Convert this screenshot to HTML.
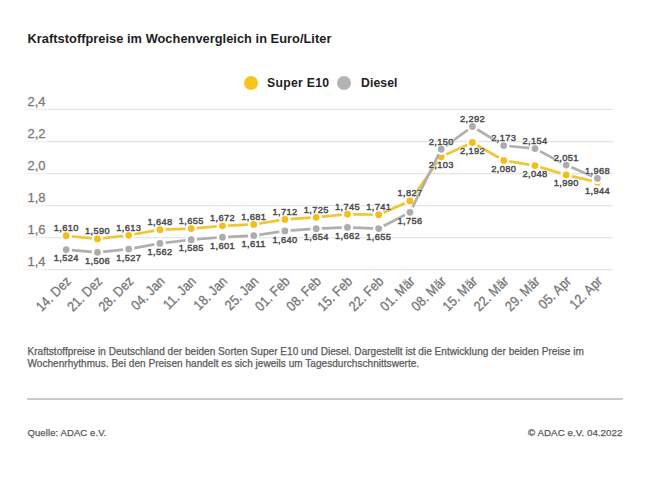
<!DOCTYPE html>
<html><head><meta charset="utf-8"><style>
html,body{margin:0;padding:0;background:#fff;width:650px;height:495px;overflow:hidden;}
body{position:relative;font-family:"Liberation Sans",sans-serif;}
.t{position:absolute;white-space:nowrap;line-height:1;}
#title{left:27.5px;top:33.2px;letter-spacing:0.04px;font-size:12.8px;font-weight:bold;color:#1e1e1e;}
#leg1{left:267px;top:77.3px;letter-spacing:0.3px;font-size:12.2px;font-weight:bold;color:#222;}
#leg2{left:361px;top:77.3px;letter-spacing:0.1px;font-size:12.2px;font-weight:bold;color:#222;}
.dot{position:absolute;width:14.2px;height:14.2px;border-radius:50%;}
#desc{left:27.5px;top:346px;font-size:10.05px;letter-spacing:0.02px;color:#5a5a5a;-webkit-text-stroke:0.25px #5a5a5a;line-height:11.6px;}
#q{left:27.5px;top:427.7px;letter-spacing:0.1px;font-size:9.5px;color:#5a5a5a;-webkit-text-stroke:0.25px #5a5a5a;}
#c{left:528px;top:427.7px;letter-spacing:0.05px;font-size:9.75px;color:#5a5a5a;-webkit-text-stroke:0.25px #5a5a5a;}
#sep{position:absolute;left:27px;top:398.4px;width:595.5px;height:1.8px;background:#cbcbcb;}
svg{position:absolute;left:0;top:0;}
.yl{font-size:13px;fill:#7b7b7b;stroke:#7b7b7b;stroke-width:0.3px;}
.xl{font-size:13.2px;fill:#777;stroke:#777;stroke-width:0.3px;letter-spacing:0.1px;}
.halo{font-size:9.9px;font-weight:normal;letter-spacing:0.35px;fill:#fff;stroke:#fff;stroke-width:1.2px;stroke-linejoin:round;text-anchor:middle;}
.dl{font-size:9.9px;font-weight:normal;letter-spacing:0.35px;fill:#4b4b4b;stroke:#4b4b4b;stroke-width:0.45px;text-anchor:middle;}
</style></head><body>
<div class="t" id="title">Kraftstoffpreise im Wochenvergleich in Euro/Liter</div>
<div class="dot" style="left:244px;top:75.8px;background:#f8c520;"></div>
<div class="t" id="leg1">Super E10</div>
<div class="dot" style="left:337.1px;top:75.8px;background:#b3b3b3;"></div>
<div class="t" id="leg2">Diesel</div>
<svg width="650" height="340" viewBox="0 0 650 340" font-family="Liberation Sans, sans-serif">
<line x1="27" y1="269.65" x2="48" y2="269.65" stroke="#f0f0f0" stroke-width="1.3"/>
<line x1="48" y1="269.65" x2="613" y2="269.65" stroke="#e4e4e4" stroke-width="1.3"/>
<line x1="27" y1="237.61" x2="48" y2="237.61" stroke="#f0f0f0" stroke-width="1.3"/>
<line x1="48" y1="237.61" x2="613" y2="237.61" stroke="#e4e4e4" stroke-width="1.3"/>
<line x1="27" y1="205.57" x2="48" y2="205.57" stroke="#f0f0f0" stroke-width="1.3"/>
<line x1="48" y1="205.57" x2="613" y2="205.57" stroke="#e4e4e4" stroke-width="1.3"/>
<line x1="27" y1="173.53" x2="48" y2="173.53" stroke="#f0f0f0" stroke-width="1.3"/>
<line x1="48" y1="173.53" x2="613" y2="173.53" stroke="#e4e4e4" stroke-width="1.3"/>
<line x1="27" y1="141.49" x2="48" y2="141.49" stroke="#f0f0f0" stroke-width="1.3"/>
<line x1="48" y1="141.49" x2="613" y2="141.49" stroke="#e4e4e4" stroke-width="1.3"/>
<line x1="27" y1="109.45" x2="48" y2="109.45" stroke="#f0f0f0" stroke-width="1.3"/>
<line x1="48" y1="109.45" x2="613" y2="109.45" stroke="#e4e4e4" stroke-width="1.3"/>
<text x="27.5" y="265.70" class="yl">1,4</text>
<text x="27.5" y="233.66" class="yl">1,6</text>
<text x="27.5" y="201.62" class="yl">1,8</text>
<text x="27.5" y="169.58" class="yl">2,0</text>
<text x="27.5" y="137.54" class="yl">2,2</text>
<text x="27.5" y="105.50" class="yl">2,4</text>
<text transform="translate(72.00,282) rotate(-45) scale(0.93,1.06)" text-anchor="end" class="xl">14. Dez</text>
<text transform="translate(103.25,282) rotate(-45) scale(0.93,1.06)" text-anchor="end" class="xl">21. Dez</text>
<text transform="translate(134.50,282) rotate(-45) scale(0.93,1.06)" text-anchor="end" class="xl">28. Dez</text>
<text transform="translate(165.75,282) rotate(-45) scale(0.93,1.06)" text-anchor="end" class="xl">04. Jan</text>
<text transform="translate(197.00,282) rotate(-45) scale(0.93,1.06)" text-anchor="end" class="xl">11. Jan</text>
<text transform="translate(228.25,282) rotate(-45) scale(0.93,1.06)" text-anchor="end" class="xl">18. Jan</text>
<text transform="translate(259.50,282) rotate(-45) scale(0.93,1.06)" text-anchor="end" class="xl">25. Jan</text>
<text transform="translate(290.75,282) rotate(-45) scale(0.93,1.06)" text-anchor="end" class="xl">01. Feb</text>
<text transform="translate(322.00,282) rotate(-45) scale(0.93,1.06)" text-anchor="end" class="xl">08. Feb</text>
<text transform="translate(353.25,282) rotate(-45) scale(0.93,1.06)" text-anchor="end" class="xl">15. Feb</text>
<text transform="translate(384.50,282) rotate(-45) scale(0.93,1.06)" text-anchor="end" class="xl">22. Feb</text>
<text transform="translate(415.75,282) rotate(-45) scale(0.93,1.06)" text-anchor="end" class="xl">01. Mär</text>
<text transform="translate(447.00,282) rotate(-45) scale(0.93,1.06)" text-anchor="end" class="xl">08. Mär</text>
<text transform="translate(478.25,282) rotate(-45) scale(0.93,1.06)" text-anchor="end" class="xl">15. Mär</text>
<text transform="translate(509.50,282) rotate(-45) scale(0.93,1.06)" text-anchor="end" class="xl">22. Mär</text>
<text transform="translate(540.75,282) rotate(-45) scale(0.93,1.06)" text-anchor="end" class="xl">29. Mär</text>
<text transform="translate(572.00,282) rotate(-45) scale(0.93,1.06)" text-anchor="end" class="xl">05. Apr</text>
<text transform="translate(603.25,282) rotate(-45) scale(0.93,1.06)" text-anchor="end" class="xl">12. Apr</text>
<polyline points="66.20,235.76 97.45,238.96 128.70,235.28 159.95,229.67 191.20,228.55 222.45,225.83 253.70,224.38 284.95,219.42 316.20,217.33 347.45,214.13 378.70,214.77 409.95,200.99 441.20,156.78 472.45,142.52 503.70,160.46 534.95,165.59 566.20,174.88 597.45,182.25" fill="none" stroke="#f1c634" stroke-width="2.7" stroke-linejoin="round"/>
<circle cx="66.20" cy="235.76" r="4.6" fill="#f5bd18" stroke="#fff" stroke-width="2.4"/>
<circle cx="97.45" cy="238.96" r="4.6" fill="#f5bd18" stroke="#fff" stroke-width="2.4"/>
<circle cx="128.70" cy="235.28" r="4.6" fill="#f5bd18" stroke="#fff" stroke-width="2.4"/>
<circle cx="159.95" cy="229.67" r="4.6" fill="#f5bd18" stroke="#fff" stroke-width="2.4"/>
<circle cx="191.20" cy="228.55" r="4.6" fill="#f5bd18" stroke="#fff" stroke-width="2.4"/>
<circle cx="222.45" cy="225.83" r="4.6" fill="#f5bd18" stroke="#fff" stroke-width="2.4"/>
<circle cx="253.70" cy="224.38" r="4.6" fill="#f5bd18" stroke="#fff" stroke-width="2.4"/>
<circle cx="284.95" cy="219.42" r="4.6" fill="#f5bd18" stroke="#fff" stroke-width="2.4"/>
<circle cx="316.20" cy="217.33" r="4.6" fill="#f5bd18" stroke="#fff" stroke-width="2.4"/>
<circle cx="347.45" cy="214.13" r="4.6" fill="#f5bd18" stroke="#fff" stroke-width="2.4"/>
<circle cx="378.70" cy="214.77" r="4.6" fill="#f5bd18" stroke="#fff" stroke-width="2.4"/>
<circle cx="409.95" cy="200.99" r="4.6" fill="#f5bd18" stroke="#fff" stroke-width="2.4"/>
<circle cx="441.20" cy="156.78" r="4.6" fill="#f5bd18" stroke="#fff" stroke-width="2.4"/>
<circle cx="472.45" cy="142.52" r="4.6" fill="#f5bd18" stroke="#fff" stroke-width="2.4"/>
<circle cx="503.70" cy="160.46" r="4.6" fill="#f5bd18" stroke="#fff" stroke-width="2.4"/>
<circle cx="534.95" cy="165.59" r="4.6" fill="#f5bd18" stroke="#fff" stroke-width="2.4"/>
<circle cx="566.20" cy="174.88" r="4.6" fill="#f5bd18" stroke="#fff" stroke-width="2.4"/>
<circle cx="597.45" cy="182.25" r="4.6" fill="#f5bd18" stroke="#fff" stroke-width="2.4"/>
<polyline points="66.20,249.54 97.45,252.42 128.70,249.05 159.95,243.45 191.20,239.76 222.45,237.20 253.70,235.60 284.95,230.95 316.20,228.71 347.45,227.43 378.70,228.55 409.95,212.37 441.20,149.25 472.45,126.50 503.70,145.57 534.95,148.61 566.20,165.11 597.45,178.41" fill="none" stroke="#afafaf" stroke-width="2.7" stroke-linejoin="round"/>
<circle cx="66.20" cy="249.54" r="4.6" fill="#acacac" stroke="#fff" stroke-width="2.4"/>
<circle cx="97.45" cy="252.42" r="4.6" fill="#acacac" stroke="#fff" stroke-width="2.4"/>
<circle cx="128.70" cy="249.05" r="4.6" fill="#acacac" stroke="#fff" stroke-width="2.4"/>
<circle cx="159.95" cy="243.45" r="4.6" fill="#acacac" stroke="#fff" stroke-width="2.4"/>
<circle cx="191.20" cy="239.76" r="4.6" fill="#acacac" stroke="#fff" stroke-width="2.4"/>
<circle cx="222.45" cy="237.20" r="4.6" fill="#acacac" stroke="#fff" stroke-width="2.4"/>
<circle cx="253.70" cy="235.60" r="4.6" fill="#acacac" stroke="#fff" stroke-width="2.4"/>
<circle cx="284.95" cy="230.95" r="4.6" fill="#acacac" stroke="#fff" stroke-width="2.4"/>
<circle cx="316.20" cy="228.71" r="4.6" fill="#acacac" stroke="#fff" stroke-width="2.4"/>
<circle cx="347.45" cy="227.43" r="4.6" fill="#acacac" stroke="#fff" stroke-width="2.4"/>
<circle cx="378.70" cy="228.55" r="4.6" fill="#acacac" stroke="#fff" stroke-width="2.4"/>
<circle cx="409.95" cy="212.37" r="4.6" fill="#acacac" stroke="#fff" stroke-width="2.4"/>
<circle cx="441.20" cy="149.25" r="4.6" fill="#acacac" stroke="#fff" stroke-width="2.4"/>
<circle cx="472.45" cy="126.50" r="4.6" fill="#acacac" stroke="#fff" stroke-width="2.4"/>
<circle cx="503.70" cy="145.57" r="4.6" fill="#acacac" stroke="#fff" stroke-width="2.4"/>
<circle cx="534.95" cy="148.61" r="4.6" fill="#acacac" stroke="#fff" stroke-width="2.4"/>
<circle cx="566.20" cy="165.11" r="4.6" fill="#acacac" stroke="#fff" stroke-width="2.4"/>
<circle cx="597.45" cy="178.41" r="4.6" fill="#acacac" stroke="#fff" stroke-width="2.4"/>
<text transform="translate(66.20,231.16) scale(0.94,1)" class="halo">1,610</text>
<text transform="translate(66.20,261.14) scale(0.94,1)" class="halo">1,524</text>
<text transform="translate(66.20,231.16) scale(0.94,1)" class="dl">1,610</text>
<text transform="translate(66.20,261.14) scale(0.94,1)" class="dl">1,524</text>
<text transform="translate(97.45,234.36) scale(0.94,1)" class="halo">1,590</text>
<text transform="translate(97.45,264.02) scale(0.94,1)" class="halo">1,506</text>
<text transform="translate(97.45,234.36) scale(0.94,1)" class="dl">1,590</text>
<text transform="translate(97.45,264.02) scale(0.94,1)" class="dl">1,506</text>
<text transform="translate(128.70,230.68) scale(0.94,1)" class="halo">1,613</text>
<text transform="translate(128.70,260.65) scale(0.94,1)" class="halo">1,527</text>
<text transform="translate(128.70,230.68) scale(0.94,1)" class="dl">1,613</text>
<text transform="translate(128.70,260.65) scale(0.94,1)" class="dl">1,527</text>
<text transform="translate(159.95,225.07) scale(0.94,1)" class="halo">1,648</text>
<text transform="translate(159.95,255.05) scale(0.94,1)" class="halo">1,562</text>
<text transform="translate(159.95,225.07) scale(0.94,1)" class="dl">1,648</text>
<text transform="translate(159.95,255.05) scale(0.94,1)" class="dl">1,562</text>
<text transform="translate(191.20,223.95) scale(0.94,1)" class="halo">1,655</text>
<text transform="translate(191.20,251.36) scale(0.94,1)" class="halo">1,585</text>
<text transform="translate(191.20,223.95) scale(0.94,1)" class="dl">1,655</text>
<text transform="translate(191.20,251.36) scale(0.94,1)" class="dl">1,585</text>
<text transform="translate(222.45,221.23) scale(0.94,1)" class="halo">1,672</text>
<text transform="translate(222.45,248.80) scale(0.94,1)" class="halo">1,601</text>
<text transform="translate(222.45,221.23) scale(0.94,1)" class="dl">1,672</text>
<text transform="translate(222.45,248.80) scale(0.94,1)" class="dl">1,601</text>
<text transform="translate(253.70,219.78) scale(0.94,1)" class="halo">1,681</text>
<text transform="translate(253.70,247.20) scale(0.94,1)" class="halo">1,611</text>
<text transform="translate(253.70,219.78) scale(0.94,1)" class="dl">1,681</text>
<text transform="translate(253.70,247.20) scale(0.94,1)" class="dl">1,611</text>
<text transform="translate(284.95,214.82) scale(0.94,1)" class="halo">1,712</text>
<text transform="translate(284.95,242.55) scale(0.94,1)" class="halo">1,640</text>
<text transform="translate(284.95,214.82) scale(0.94,1)" class="dl">1,712</text>
<text transform="translate(284.95,242.55) scale(0.94,1)" class="dl">1,640</text>
<text transform="translate(316.20,212.73) scale(0.94,1)" class="halo">1,725</text>
<text transform="translate(316.20,240.31) scale(0.94,1)" class="halo">1,654</text>
<text transform="translate(316.20,212.73) scale(0.94,1)" class="dl">1,725</text>
<text transform="translate(316.20,240.31) scale(0.94,1)" class="dl">1,654</text>
<text transform="translate(347.45,209.53) scale(0.94,1)" class="halo">1,745</text>
<text transform="translate(347.45,239.03) scale(0.94,1)" class="halo">1,662</text>
<text transform="translate(347.45,209.53) scale(0.94,1)" class="dl">1,745</text>
<text transform="translate(347.45,239.03) scale(0.94,1)" class="dl">1,662</text>
<text transform="translate(378.70,210.17) scale(0.94,1)" class="halo">1,741</text>
<text transform="translate(378.70,240.15) scale(0.94,1)" class="halo">1,655</text>
<text transform="translate(378.70,210.17) scale(0.94,1)" class="dl">1,741</text>
<text transform="translate(378.70,240.15) scale(0.94,1)" class="dl">1,655</text>
<text transform="translate(409.95,196.39) scale(0.94,1)" class="halo">1,827</text>
<text transform="translate(409.95,223.97) scale(0.94,1)" class="halo">1,756</text>
<text transform="translate(409.95,196.39) scale(0.94,1)" class="dl">1,827</text>
<text transform="translate(409.95,223.97) scale(0.94,1)" class="dl">1,756</text>
<text transform="translate(441.20,144.65) scale(0.94,1)" class="halo">2,150</text>
<text transform="translate(441.20,168.38) scale(0.94,1)" class="halo">2,103</text>
<text transform="translate(441.20,144.65) scale(0.94,1)" class="dl">2,150</text>
<text transform="translate(441.20,168.38) scale(0.94,1)" class="dl">2,103</text>
<text transform="translate(472.45,121.90) scale(0.94,1)" class="halo">2,292</text>
<text transform="translate(472.45,154.12) scale(0.94,1)" class="halo">2,192</text>
<text transform="translate(472.45,121.90) scale(0.94,1)" class="dl">2,292</text>
<text transform="translate(472.45,154.12) scale(0.94,1)" class="dl">2,192</text>
<text transform="translate(503.70,140.97) scale(0.94,1)" class="halo">2,173</text>
<text transform="translate(503.70,172.06) scale(0.94,1)" class="halo">2,080</text>
<text transform="translate(503.70,140.97) scale(0.94,1)" class="dl">2,173</text>
<text transform="translate(503.70,172.06) scale(0.94,1)" class="dl">2,080</text>
<text transform="translate(534.95,144.01) scale(0.94,1)" class="halo">2,154</text>
<text transform="translate(534.95,177.19) scale(0.94,1)" class="halo">2,048</text>
<text transform="translate(534.95,144.01) scale(0.94,1)" class="dl">2,154</text>
<text transform="translate(534.95,177.19) scale(0.94,1)" class="dl">2,048</text>
<text transform="translate(566.20,160.51) scale(0.94,1)" class="halo">2,051</text>
<text transform="translate(566.20,186.48) scale(0.94,1)" class="halo">1,990</text>
<text transform="translate(566.20,160.51) scale(0.94,1)" class="dl">2,051</text>
<text transform="translate(566.20,186.48) scale(0.94,1)" class="dl">1,990</text>
<text transform="translate(597.45,173.81) scale(0.94,1)" class="halo">1,968</text>
<text transform="translate(597.45,193.85) scale(0.94,1)" class="halo">1,944</text>
<text transform="translate(597.45,173.81) scale(0.94,1)" class="dl">1,968</text>
<text transform="translate(597.45,193.85) scale(0.94,1)" class="dl">1,944</text>
</svg>
<div class="t" id="desc">Kraftstoffpreise in Deutschland der beiden Sorten Super E10 und Diesel. Dargestellt ist die Entwicklung der beiden Preise im<br>Wochenrhythmus. Bei den Preisen handelt es sich jeweils um Tagesdurchschnittswerte.</div>
<div id="sep"></div>
<div class="t" id="q">Quelle: ADAC e.V.</div>
<div class="t" id="c">© ADAC e.V. 04.2022</div>
</body></html>
